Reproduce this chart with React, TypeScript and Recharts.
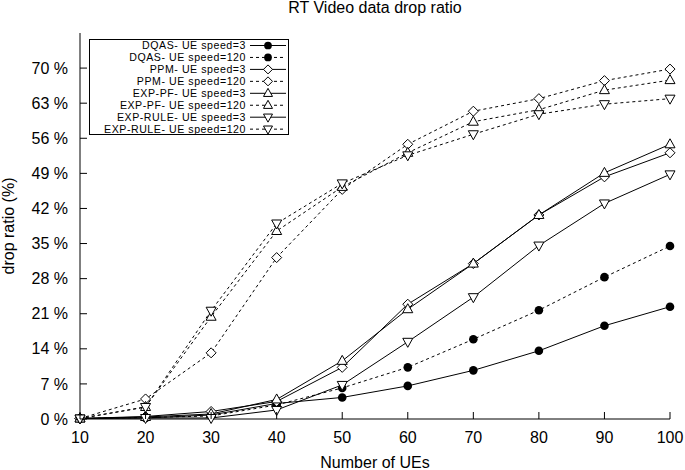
import React from "react";
import { LineChart, Line, XAxis, YAxis, Legend } from "recharts";

const ues = [10, 20, 30, 40, 50, 60, 70, 80, 90, 100];
const yTicks = [0, 7, 14, 21, 28, 35, 42, 49, 56, 63, 70];

const dqasSpeed3 = [0.1, 0.2, 0.8, 3.1, 4.3, 6.6, 9.7, 13.6, 18.6, 22.4];
const dqasSpeed120 = [0.1, 0.3, 0.6, 2.8, 6.2, 10.3, 15.9, 21.7, 28.3, 34.5];
const ppmSpeed3 = [0.1, 0.5, 1.5, 3.5, 10.3, 22.9, 31.0, 40.7, 48.3, 53.1];
const ppmSpeed120 = [0.1, 4.0, 13.2, 32.2, 45.8, 54.8, 61.4, 63.9, 67.5, 69.8];
const expPfSpeed3 = [0.1, 0.4, 1.0, 3.9, 11.6, 21.9, 31.0, 40.7, 49.1, 54.8];
const expPfSpeed120 = [0.1, 2.4, 20.4, 37.5, 46.3, 53.1, 59.3, 61.7, 65.6, 67.6];
const expRuleSpeed3 = [0.1, 0.2, 0.2, 1.8, 6.8, 15.4, 24.3, 34.6, 43.0, 48.8];
const expRuleSpeed120 = [0.1, 2.4, 21.6, 39.0, 47.0, 52.6, 56.8, 60.8, 62.8, 63.9];

type Shape = "circle" | "diamond" | "up" | "down";

const series: { key: string; name: string; values: number[]; shape: Shape; dashed: boolean }[] = [
  { key: "dqas3", name: "DQAS- UE speed=3", values: dqasSpeed3, shape: "circle", dashed: false },
  { key: "dqas120", name: "DQAS- UE speed=120", values: dqasSpeed120, shape: "circle", dashed: true },
  { key: "ppm3", name: "PPM- UE speed=3", values: ppmSpeed3, shape: "diamond", dashed: false },
  { key: "ppm120", name: "PPM- UE speed=120", values: ppmSpeed120, shape: "diamond", dashed: true },
  { key: "pf3", name: "EXP-PF- UE speed=3", values: expPfSpeed3, shape: "up", dashed: false },
  { key: "pf120", name: "EXP-PF- UE speed=120", values: expPfSpeed120, shape: "up", dashed: true },
  { key: "rule3", name: "EXP-RULE- UE speed=3", values: expRuleSpeed3, shape: "down", dashed: false },
  { key: "rule120", name: "EXP-RULE- UE speed=120", values: expRuleSpeed120, shape: "down", dashed: true },
];

const data = ues.map((ue, i) => {
  const row: Record<string, number> = { ue };
  series.forEach((s) => (row[s.key] = s.values[i]));
  return row;
});

const FONT = "'Liberation Sans', Arial, Helvetica, sans-serif";
const DASH = "3 3";

function Marker({ cx, cy, shape, size = 1 }: { cx: number; cy: number; shape: Shape; size?: number }) {
  if (shape === "circle") return <circle cx={cx} cy={cy} r={4.3 * size} fill="#000" />;
  const a = 5 * size;
  const b = 3.5 * size;
  const c = 5.5 * size;
  let pts = "";
  if (shape === "diamond") pts = `${cx},${cy - a} ${cx + a},${cy} ${cx},${cy + a} ${cx - a},${cy}`;
  if (shape === "up") pts = `${cx},${cy - c} ${cx + a},${cy + b} ${cx - a},${cy + b}`;
  if (shape === "down") pts = `${cx},${cy + c} ${cx + a},${cy - b} ${cx - a},${cy - b}`;
  return <polygon points={pts} fill="#fff" stroke="#000" strokeWidth={1} />;
}

const LeftTick = ({ x, y, payload }: any) => (
  <g>
    <line x1={x} x2={x + 7} y1={y} y2={y} stroke="#000" />
    <text x={x - 12} y={y} dy="0.35em" textAnchor="end" fontSize={16} fontFamily={FONT} fill="#000">
      {payload.value} %
    </text>
  </g>
);

const RightTick = ({ x, y }: any) => <line x1={x} x2={x - 7} y1={y} y2={y} stroke="#000" />;

const BottomTick = ({ x, y, payload }: any) => (
  <g>
    <line x1={x} x2={x} y1={y} y2={y - 7} stroke="#000" />
    <text x={x} y={y + 24} textAnchor="middle" fontSize={16} fontFamily={FONT} fill="#000">
      {payload.value}
    </text>
  </g>
);

const TopTick = ({ x, y }: any) => <line x1={x} x2={x} y1={y} y2={y + 7} stroke="#000" />;

const YLabel = ({ viewBox }: any) => {
  const cx = 14;
  const cy = viewBox.y + viewBox.height / 2;
  return (
    <text x={cx} y={cy} transform={`rotate(-90 ${cx} ${cy})`} textAnchor="middle" fontSize={16} fontFamily={FONT} fill="#000">
      drop ratio (%)
    </text>
  );
};

const renderLegend = () => (
  <svg width={200} height={96} style={{ display: "block" }}>
    <rect x={0.5} y={0.5} width={199} height={95} fill="none" stroke="#000" />
    {series.map((s, i) => {
      const y = 6.5 + i * 11.95;
      return (
        <g key={s.key}>
          <text x={157} y={y} dy="0.35em" textAnchor="end" fontSize={10.6} letterSpacing={0.55} fontFamily={FONT} fill="#000">
            {s.name}
          </text>
          <line x1={161} x2={197} y1={y} y2={y} stroke="#000" strokeDasharray={s.dashed ? DASH : undefined} />
          <Marker cx={179} cy={y} shape={s.shape} size={0.9} />
        </g>
      );
    })}
  </svg>
);

export default function App() {
  return (
    <div style={{ position: "absolute", left: 0, top: 0, width: 685, height: 470, background: "#fff", fontFamily: FONT }}>
      <div style={{ position: "absolute", left: 0, top: 0, width: 750, textAlign: "center", fontSize: 16, lineHeight: "16px", color: "#000" }}>
        RT Video data drop ratio
      </div>
      <LineChart width={685} height={470} data={data} margin={{ top: 33, right: 15, bottom: 0, left: 0 }}>
        <XAxis
          xAxisId="b"
          dataKey="ue"
          type="number"
          domain={[10, 100]}
          ticks={ues}
          interval={0}
          height={51}
          tickSize={0}
          tickMargin={0}
          tick={BottomTick}
          axisLine={{ stroke: "#000" }}
          label={{ value: "Number of UEs", position: "insideBottom", offset: 2, fill: "#000", fontSize: 16, fontFamily: FONT }}
        />
        <XAxis
          xAxisId="t"
          orientation="top"
          type="number"
          domain={[10, 100]}
          ticks={ues}
          interval={0}
          height={0}
          tickSize={0}
          tickMargin={0}
          tick={TopTick}
          axisLine={{ stroke: "#000" }}
        />
        <YAxis
          yAxisId="l"
          type="number"
          domain={[0, 77]}
          ticks={yTicks}
          interval={0}
          width={80}
          tickSize={0}
          tickMargin={0}
          tick={LeftTick}
          axisLine={{ stroke: "#000" }}
          label={<YLabel />}
        />
        <YAxis
          yAxisId="r"
          orientation="right"
          type="number"
          domain={[0, 77]}
          ticks={yTicks}
          interval={0}
          width={0}
          tickSize={0}
          tickMargin={0}
          tick={RightTick}
          axisLine={{ stroke: "#000" }}
        />
        <Legend
          layout="horizontal"
          verticalAlign="middle"
          align="center"
          content={renderLegend}
          wrapperStyle={{ position: "absolute", left: 89, top: 39, width: 200, height: 96 }}
        />
        {series.map((s) => (
          <Line
            key={s.key}
            xAxisId="b"
            yAxisId="l"
            dataKey={s.key}
            name={s.name}
            stroke="#000"
            strokeWidth={1}
            strokeDasharray={s.dashed ? DASH : undefined}
            isAnimationActive={false}
            dot={(p: any) => <Marker key={`${s.key}-${p.index}`} cx={p.cx} cy={p.cy} shape={s.shape} />}
            activeDot={false}
          />
        ))}
      </LineChart>
    </div>
  );
}
